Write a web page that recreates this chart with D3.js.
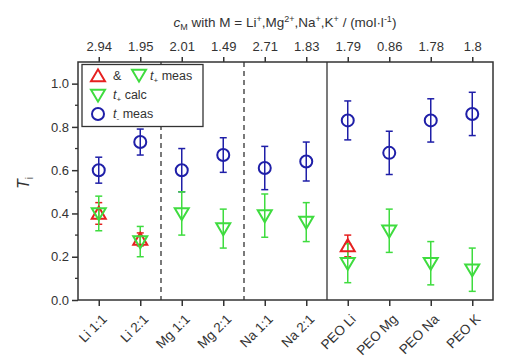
<!DOCTYPE html>
<html><head><meta charset="utf-8">
<script src="https://cdn.jsdelivr.net/npm/d3@7"></script>
<style>body{margin:0;background:#fff;font-family:"Liberation Sans",Arial,sans-serif;}</style>
</head><body><svg id="c" width="528" height="359"></svg>
<script>
const categories = ["Li 1:1","Li 2:1","Mg 1:1","Mg 2:1","Na 1:1","Na 2:1","PEO Li","PEO Mg","PEO Na","PEO K"];
const topLabels = ["2.94","1.95","2.01","1.49","2.71","1.83","1.79","0.86","1.78","1.8"];
const tMinusMeas = [0.60,0.73,0.60,0.67,0.61,0.64,0.83,0.68,0.83,0.86];
const tMinusErr  = [0.06,0.06,0.10,0.08,0.10,0.09,0.09,0.10,0.10,0.10];
const tPlusCalc  = [0.40,0.27,0.40,0.33,0.39,0.36,0.17,0.32,0.17,0.14];
const tPlusCalcErr=[0.08,0.07,0.10,0.09,0.10,0.09,0.09,0.10,0.10,0.10];
const tPlusMeas  = [0.40,0.28,null,null,null,null,0.25,null,null,null];
const tPlusMeasErr=[0.05,0.03,null,null,null,null,0.05,null,null,null];
const yTicks = [0.0,0.2,0.4,0.6,0.8,1.0];
const separators = [{pos:2.5,dash:true},{pos:4.5,dash:true},{pos:6.5,dash:false}];

const svg = d3.select("#c");
const L=78,R=493,T=62,B=300;
const x = d3.scaleLinear().domain([0.5,10.5]).range([L,R]);
const y = d3.scaleLinear().domain([0,1.1]).range([B,T]);
const ink="#333";
const blue="#1f1fa8", green="#3fdc3f", red="#e62020";
const FF="Liberation Sans, Arial, sans-serif";

svg.append("rect").attr("x",L).attr("y",T).attr("width",R-L).attr("height",B-T)
  .attr("fill","none").attr("stroke",ink).attr("stroke-width",1.5);

separators.forEach(s=>{
  svg.append("line").attr("x1",x(s.pos)).attr("x2",x(s.pos)).attr("y1",T).attr("y2",B)
   .attr("stroke",ink).attr("stroke-width",1.3).attr("stroke-dasharray",s.dash?"5,4":null);
});

const idx = categories.map((d,i)=>i+1);
const xb = svg.append("g").attr("transform",`translate(0,${B})`)
  .call(d3.axisBottom(x).tickValues(idx).tickSize(6).tickFormat(""));
xb.select(".domain").remove();
xb.selectAll("line").attr("stroke",ink).attr("stroke-width",1.5);
svg.selectAll(".xlab").data(categories).enter().append("text")
  .attr("transform",(d,i)=>`translate(${x(i+1)+9},${B+20}) rotate(-45)`)
  .attr("text-anchor","end").attr("font-size",13.5).attr("fill",ink).text(d=>d);

const xt = svg.append("g").attr("transform",`translate(0,${T})`)
  .call(d3.axisTop(x).tickValues(idx).tickSize(5).tickFormat((d,i)=>topLabels[i]));
xt.select(".domain").remove();
xt.selectAll("line").attr("stroke",ink).attr("stroke-width",1.5);
xt.selectAll("text").attr("font-size",13).attr("fill",ink).attr("font-family",FF).attr("dy","-0.2em");

const yl = svg.append("g").attr("transform",`translate(${L},0)`)
  .call(d3.axisLeft(y).tickValues(yTicks).tickSize(6).tickFormat(d3.format(".1f")));
yl.select(".domain").remove();
yl.selectAll("line").attr("stroke",ink).attr("stroke-width",1.5);
yl.selectAll("text").attr("font-size",13).attr("fill",ink).attr("font-family",FF);
const minor = d3.range(0.1,1.1,0.2);
svg.append("g").selectAll("line").data(minor).enter().append("line")
  .attr("x1",L-3).attr("x2",L).attr("y1",d=>y(d)).attr("y2",d=>y(d)).attr("stroke",ink).attr("stroke-width",1.3);

const tt = svg.append("text").attr("x",285).attr("y",27).attr("text-anchor","middle").attr("font-size",13.5).attr("fill",ink);
tt.append("tspan").text("c").attr("font-style","italic");
tt.append("tspan").text("M").attr("font-size",9).attr("dy",3);
tt.append("tspan").text(" with M = Li").attr("dy",-3);
tt.append("tspan").text("+").attr("font-size",9).attr("dy",-5);
tt.append("tspan").text(",Mg").attr("dy",5);
tt.append("tspan").text("2+").attr("font-size",9).attr("dy",-5);
tt.append("tspan").text(",Na").attr("dy",5);
tt.append("tspan").text("+").attr("font-size",9).attr("dy",-5);
tt.append("tspan").text(",K").attr("dy",5);
tt.append("tspan").text("+").attr("font-size",9).attr("dy",-5);
tt.append("tspan").text(" / (mol·l").attr("dy",5);
tt.append("tspan").text("-1").attr("font-size",9).attr("dy",-5);
tt.append("tspan").text(")").attr("dy",5);

const yt = svg.append("text").attr("transform","translate(29,189) rotate(-90)").attr("font-size",16).attr("fill",ink);
yt.append("tspan").text("T").attr("font-style","italic");
yt.append("tspan").text("i").attr("font-size",10).attr("dy",4);

function errbars(vals, errs, color){
  const g = svg.append("g");
  vals.forEach((v,i)=>{
    if(v==null) return;
    const cx=x(i+1), e=errs[i];
    g.append("line").attr("x1",cx).attr("x2",cx).attr("y1",y(v+e)).attr("y2",y(v-e)).attr("stroke",color).attr("stroke-width",1.5);
    [v+e,v-e].forEach(w=>g.append("line").attr("x1",cx-3.5).attr("x2",cx+3.5).attr("y1",y(w)).attr("y2",y(w)).attr("stroke",color).attr("stroke-width",1.5));
  });
}
const triDown = (cx,cy,s)=>`M${cx-s},${cy-s*0.75}L${cx+s},${cy-s*0.75}L${cx},${cy+s*0.95}Z`;
const triUp = (cx,cy,s)=>`M${cx-s},${cy+s*0.75}L${cx+s},${cy+s*0.75}L${cx},${cy-s*0.95}Z`;

errbars(tMinusMeas,tMinusErr,blue);
errbars(tPlusMeas,tPlusMeasErr,red);
errbars(tPlusCalc,tPlusCalcErr,green);

svg.append("g").selectAll("path").data(tPlusMeas.map((v,i)=>({v,i})).filter(d=>d.v!=null)).enter()
  .append("path").attr("d",d=>triUp(x(d.i+1),y(d.v),7)).attr("fill","none").attr("stroke",red).attr("stroke-width",2);
svg.append("g").selectAll("path").data(tPlusCalc.map((v,i)=>({v,i}))).enter()
  .append("path").attr("d",d=>triDown(x(d.i+1),y(d.v),7)).attr("fill","none").attr("stroke",green).attr("stroke-width",2);
svg.append("g").selectAll("circle").data(tMinusMeas.map((v,i)=>({v,i}))).enter()
  .append("circle").attr("cx",d=>x(d.i+1)).attr("cy",d=>y(d.v)).attr("r",6).attr("fill","none").attr("stroke",blue).attr("stroke-width",2);

const lg = svg.append("g");
lg.append("rect").attr("x",82).attr("y",64.5).attr("width",121).attr("height",62).attr("fill","#fff").attr("stroke",ink).attr("stroke-width",1.3);
lg.append("path").attr("d",triUp(98,76,7)).attr("fill","none").attr("stroke",red).attr("stroke-width",2);
lg.append("text").attr("x",113).attr("y",80).attr("font-size",12.5).attr("fill",ink).text("&");
lg.append("path").attr("d",triDown(139,75,7)).attr("fill","none").attr("stroke",green).attr("stroke-width",2);
function lgText(xx,yy,sub,label){
  const t=lg.append("text").attr("x",xx).attr("y",yy).attr("font-size",12.5).attr("fill",ink);
  t.append("tspan").text("t").attr("font-style","italic");
  t.append("tspan").text(sub).attr("font-size",8).attr("dy",3);
  t.append("tspan").text(" "+label).attr("dy",-3);
  return t;
}
lgText(150,80,"+","meas");
lg.append("path").attr("d",triDown(98,95,7)).attr("fill","none").attr("stroke",green).attr("stroke-width",2);
lgText(113,99,"+","calc");
lg.append("circle").attr("cx",98).attr("cy",114).attr("r",6).attr("fill","none").attr("stroke",blue).attr("stroke-width",2);
lgText(113,118,"-","meas");
</script></body></html>
